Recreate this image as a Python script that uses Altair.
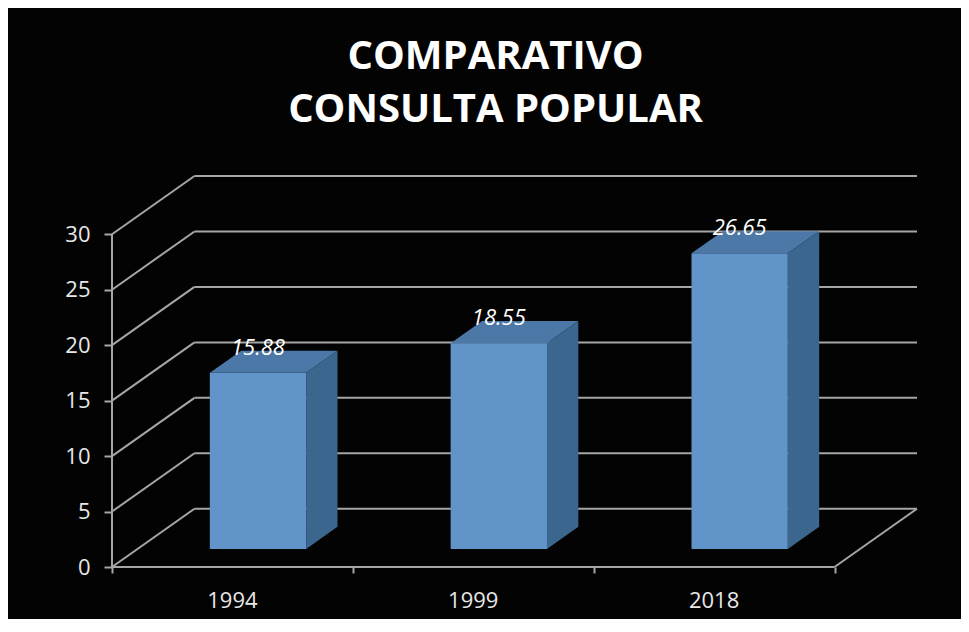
import altair as alt
import pandas as pd

# ---- data ----
categories = ["1994", "1999", "2018"]
values = [15.88, 18.55, 26.65]
y_ticks = [0, 5, 10, 15, 20, 25, 30]
x_ticks = [0, 1, 2, 3]
title_lines = ["COMPARATIVO", "CONSULTA POPULAR"]

# ---- 3D projection (oblique) in data units ----
DX = 0.3425   # horizontal shift for full depth (category units)
DY = 5.25     # vertical shift for full depth (value units)
HALF_W = 0.2  # half bar width (category units)
D0, D1 = 0.31, 0.69  # bar front / back depth fraction
N = len(categories)
YMAX = max(y_ticks)

FONT = "Open Sans"
GRID = "#a6a6a6"
FRONT = "#6194c9"
TOP = "#4b78a6"
SIDE = "#3b678f"

# gridlines / walls
grid_rows = []
for v in y_ticks:
    grid_rows.append(dict(x=DX, y=v + DY, x2=N + DX, y2=v + DY))      # back wall
    grid_rows.append(dict(x=0, y=v, x2=DX, y2=v + DY))                # left wall
grid_rows.append(dict(x=N, y=0, x2=N + DX, y2=DY))                    # floor right edge
grid_rows.append(dict(x=0, y=0, x2=N, y2=0))                          # front x axis
grid_rows.append(dict(x=0, y=0, x2=0, y2=YMAX))                       # front y axis
grid = pd.DataFrame(grid_rows)

front_rows, top_rows, side_rows, lab_rows, cat_rows = [], [], [], [], []
a = (D1 - D0) * DX
b = (D1 - D0) * DY
for i, (c, v) in enumerate(zip(categories, values)):
    xl = i + 0.5 - HALF_W + D0 * DX
    xr = i + 0.5 + HALF_W + D0 * DX
    base = D0 * DY
    t = v + D0 * DY
    front_rows.append(dict(cat=c, x=xl, x2=xr, y=base, y2=t))
    for xx, lo, hi in [(xl, t, t), (xl + a, t, t + b), (xr, t, t + b), (xr + a, t + b, t + b)]:
        top_rows.append(dict(cat=c, x=xx, y=lo, y2=hi))
    for xx, lo, hi in [(xr, base, t), (xr + a, base + b, t + b)]:
        side_rows.append(dict(cat=c, x=xx, y=lo, y2=hi))
    lab_rows.append(dict(cat=c, x=i + 0.5 + D0 * DX, y=t, label=f"{v:.2f}"))
    cat_rows.append(dict(cat=c, x=i + 0.5, y=0))

front = pd.DataFrame(front_rows)
top = pd.DataFrame(top_rows)
side = pd.DataFrame(side_rows)
labs = pd.DataFrame(lab_rows)
cats = pd.DataFrame(cat_rows)

xs = alt.Scale(domain=[0, N + DX], nice=False, zero=False)
ys = alt.Scale(domain=[0, YMAX + DY], nice=False, zero=False)
xaxis = alt.Axis(values=x_ticks, labels=False, domain=False, grid=False,
                 ticks=True, tickSize=6, tickColor=GRID, tickWidth=2, title=None)
yaxis = alt.Axis(values=y_ticks, domain=False, grid=False, ticks=True, tickSize=8,
                 tickColor=GRID, tickWidth=2, labelFont=FONT, labelFontSize=22,
                 labelColor="#e8e8e8", labelPadding=14, title=None)

X = lambda f="x": alt.X(f"{f}:Q", scale=xs, axis=xaxis)
Y = lambda f="y": alt.Y(f"{f}:Q", scale=ys, axis=yaxis, stack=None)

grid_layer = alt.Chart(grid).mark_rule(color=GRID, strokeWidth=2).encode(
    x=X(), x2="x2:Q", y=Y(), y2="y2:Q")

front_layer = alt.Chart(front).mark_rect(color=FRONT).encode(
    x=X(), x2="x2:Q", y=Y(), y2="y2:Q")

top_layer = alt.Chart(top).mark_area(color=TOP, opacity=1, interpolate="linear").encode(
    x=X(), y=Y(), y2="y2:Q", detail="cat:N")

side_layer = alt.Chart(side).mark_area(color=SIDE, opacity=1, interpolate="linear").encode(
    x=X(), y=Y(), y2="y2:Q", detail="cat:N")

val_layer = alt.Chart(labs).mark_text(
    font=FONT, fontSize=22, fontStyle="italic", color="white",
    baseline="alphabetic", align="center", dy=-18).encode(
    x=X(), y=Y(), text="label:N")

cat_layer = alt.Chart(cats).mark_text(
    font=FONT, fontSize=22, color="#e8e8e8",
    baseline="alphabetic", align="center", dy=41).encode(
    x=X(), y=Y(), text="cat:N")

chart = alt.layer(
    grid_layer, front_layer, top_layer, side_layer, val_layer, cat_layer
).properties(
    width=805, height=391,
    autosize=alt.AutoSizeParams(type="none"),
    padding={"left": 104, "top": 168, "right": 44, "bottom": 52},
    background="#030303",
    title=alt.TitleParams(
        text=title_lines, font=FONT, fontSize=40, fontWeight="bold",
        color="white", anchor="middle", frame="group", dx=-19,
        lineHeight=53, offset=45),
).configure_view(stroke=None)

chart.save("out.html", embed_options={"renderer": "svg", "actions": False})
